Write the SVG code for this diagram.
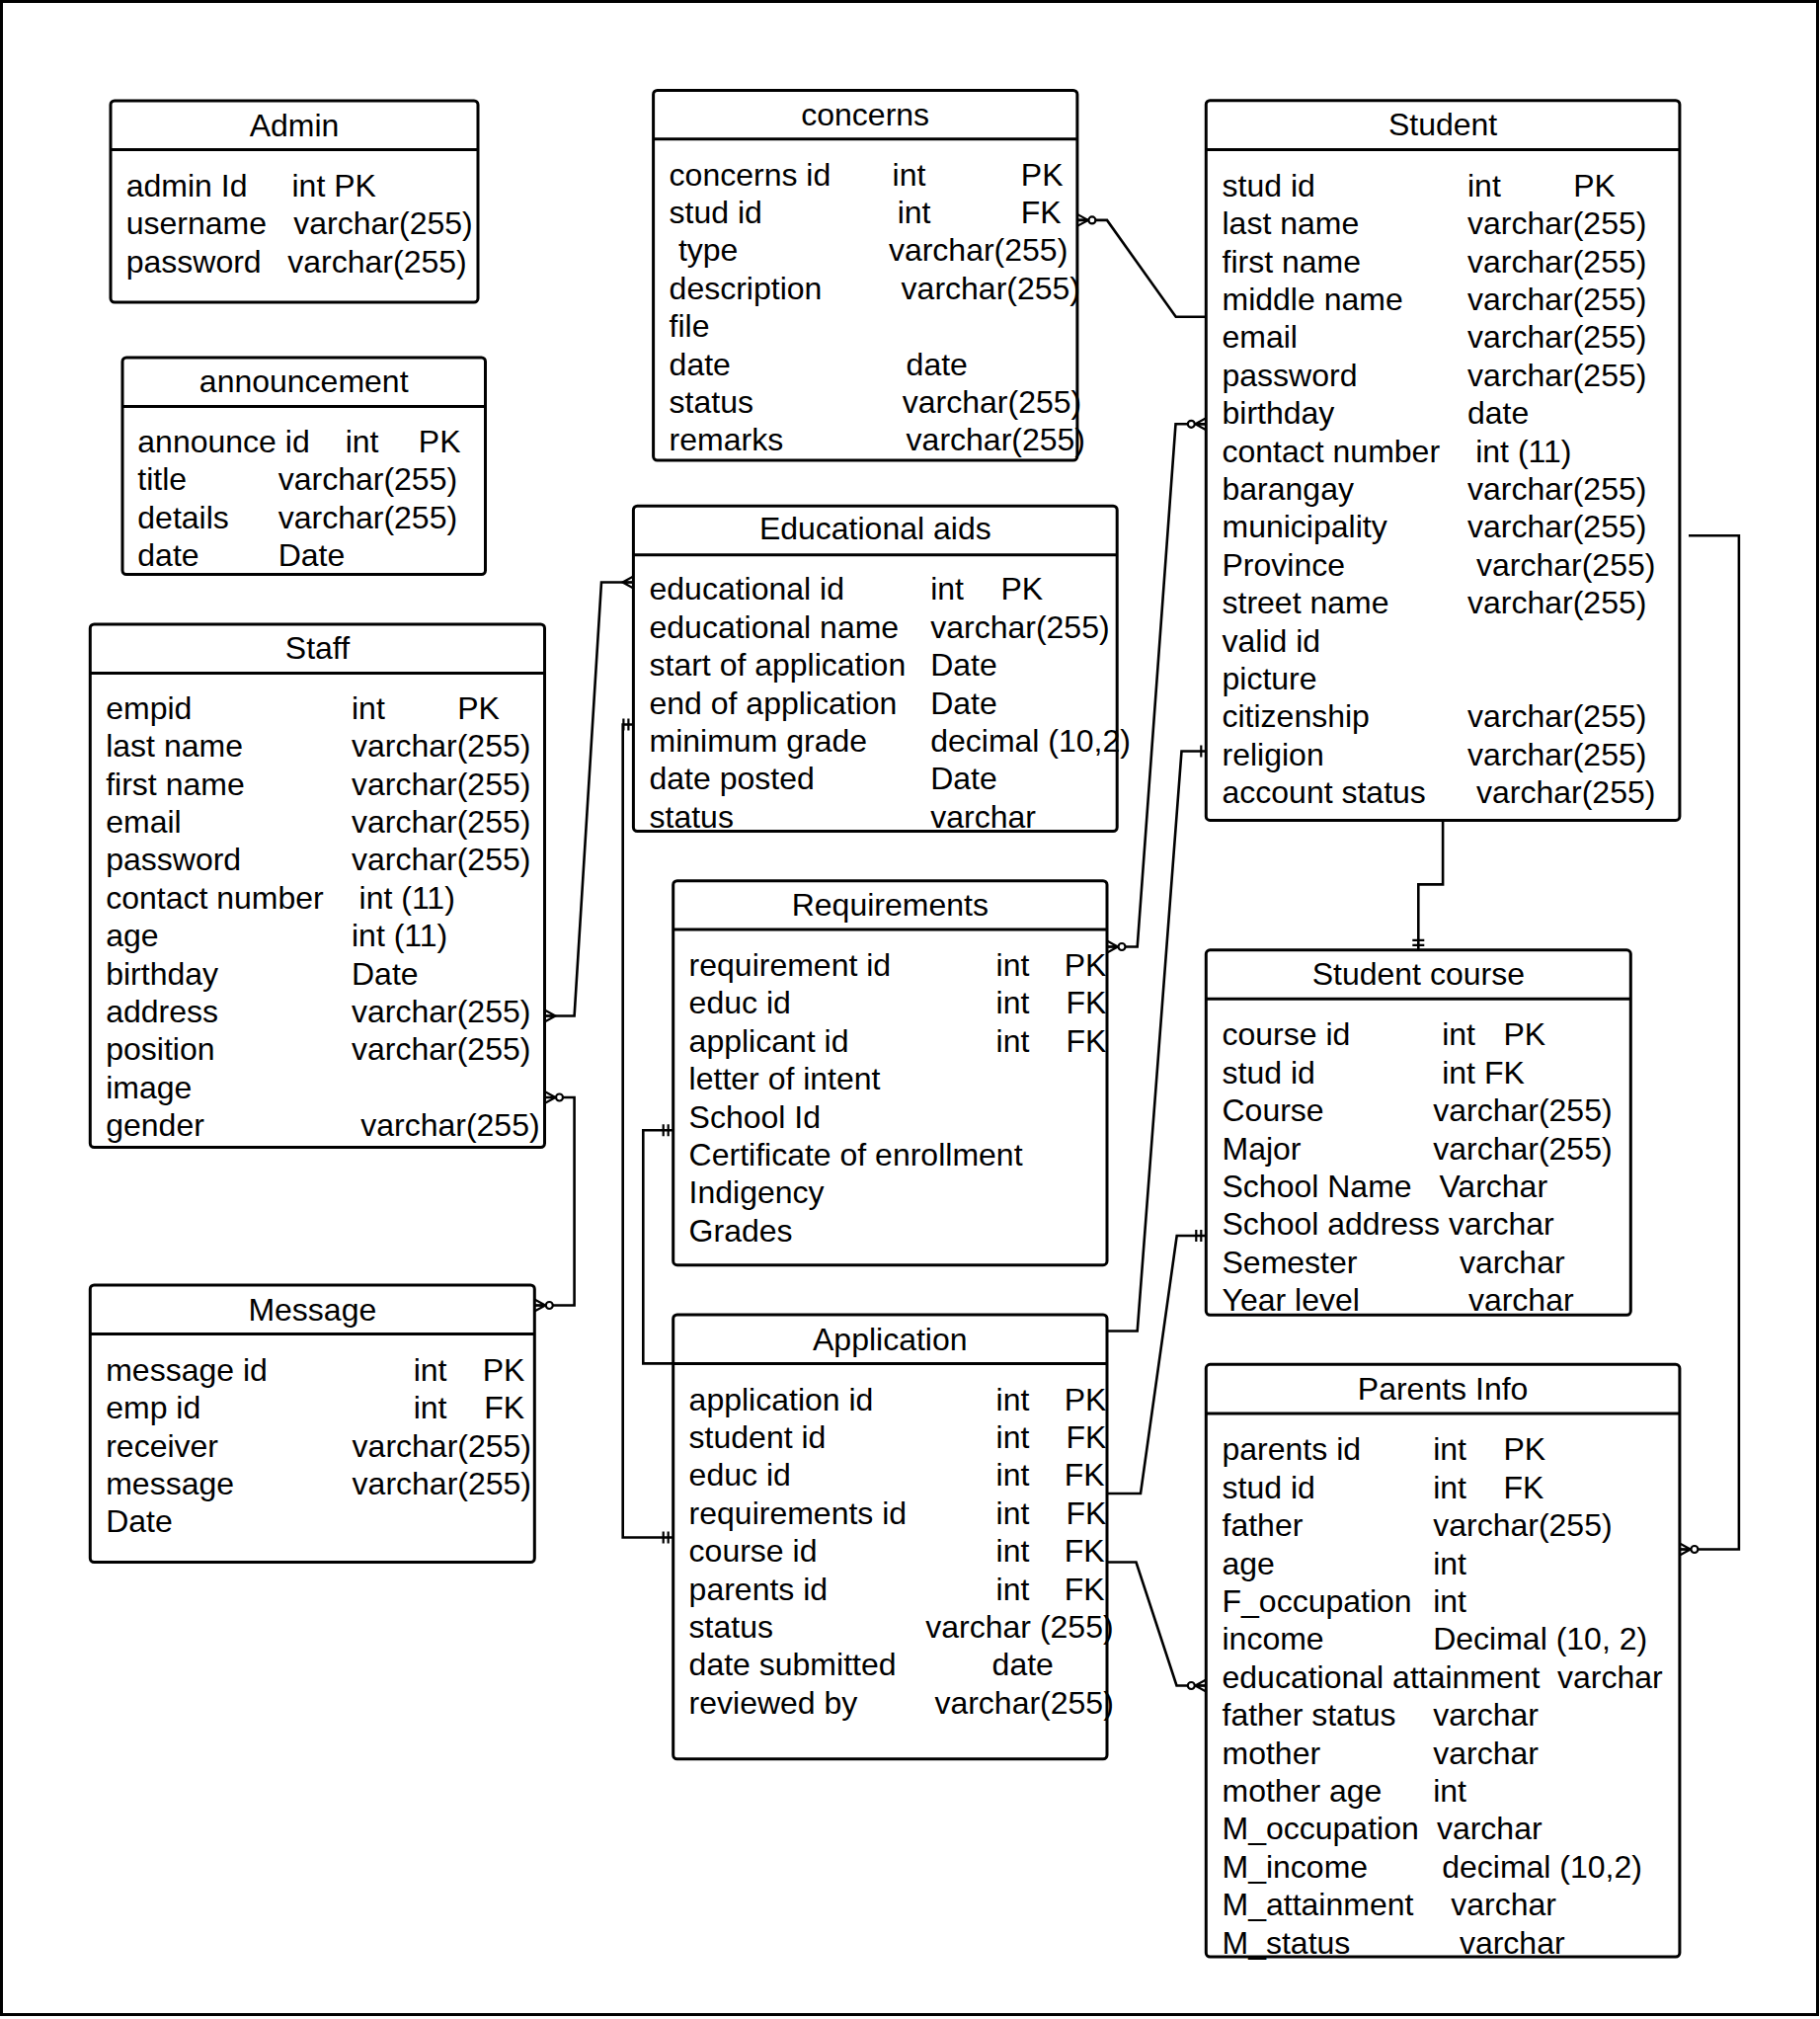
<svg xmlns="http://www.w3.org/2000/svg" width="1843" height="2044" viewBox="0 0 1843 2044">
<style>
.box{fill:#fff;stroke:#000;stroke-width:3}
.sep{stroke:#000;stroke-width:3}
text{font-family:"Liberation Sans",Arial,Helvetica,sans-serif;font-size:32px;fill:#000}
.t{text-anchor:middle}
.edge{fill:none;stroke:#000;stroke-width:2.6}
.mk{fill:none;stroke:#000;stroke-width:2.2}
</style>
<defs>
<marker id="zm" viewBox="-22 -10 26 20" markerWidth="26" markerHeight="20" refX="0" refY="0" markerUnits="userSpaceOnUse" orient="auto-start-reverse">
<path class="mk" d="M0,-6 L-11,0 L0,6 M0,0 H-11"/>
<circle cx="-15" cy="0" r="3.5" fill="#fff" stroke="#000" stroke-width="2.2"/>
</marker>
<marker id="many" viewBox="-22 -10 26 20" markerWidth="26" markerHeight="20" refX="0" refY="0" markerUnits="userSpaceOnUse" orient="auto-start-reverse">
<path class="mk" d="M0,-6 L-11,0 L0,6 M0,0 H-11"/>
</marker>
<marker id="one" viewBox="-22 -10 26 20" markerWidth="26" markerHeight="20" refX="0" refY="0" markerUnits="userSpaceOnUse" orient="auto-start-reverse">
<path class="mk" d="M-5,-6 V6"/>
</marker>
<marker id="mand" viewBox="-22 -10 26 20" markerWidth="26" markerHeight="20" refX="0" refY="0" markerUnits="userSpaceOnUse" orient="auto-start-reverse">
<path class="mk" d="M-5,-6 V6 M-10,-6 V6"/>
</marker>
</defs>
<rect x="0" y="0" width="1843" height="2044" fill="#fff"/>
<rect x="1.5" y="1.5" width="1839" height="2038" fill="none" stroke="#000" stroke-width="3"/>

<g id="admin">
<rect class="box" x="112" y="102" width="372" height="204" rx="4"/>
<line class="sep" x1="112" y1="151.5" x2="484" y2="151.5"/>
<text class="t" x="298" y="137.5">Admin</text>
<text x="127.7" y="198.7">admin Id</text><text x="295.5" y="198.7">int PK</text>
<text x="127.7" y="237.1">username</text><text x="297.3" y="237.1">varchar(255)</text>
<text x="127.7" y="275.5">password</text><text x="291.3" y="275.5">varchar(255)</text>
</g>

<g id="announcement">
<rect class="box" x="124" y="362" width="367.5" height="219.5" rx="4"/>
<line class="sep" x1="124" y1="411.6" x2="491.5" y2="411.6"/>
<text class="t" x="307.7" y="397">announcement</text>
<text x="139.3" y="458">announce id</text><text x="349.7" y="458">int</text><text x="423.8" y="458">PK</text>
<text x="139.3" y="496.4">title</text><text x="281.7" y="496.4">varchar(255)</text>
<text x="139.3" y="534.8">details</text><text x="281.7" y="534.8">varchar(255)</text>
<text x="139.3" y="573.2">date</text><text x="281.7" y="573.2">Date</text>
</g>

<g id="staff">
<rect class="box" x="91.3" y="632" width="460.2" height="529.5" rx="4"/>
<line class="sep" x1="91.3" y1="681.4" x2="551.5" y2="681.4"/>
<text class="t" x="321.4" y="666.5">Staff</text>
<text x="107.2" y="727.7">empid</text><text x="356" y="727.7">int</text><text x="463.2" y="727.7">PK</text>
<text x="107.2" y="766.1">last name</text><text x="356" y="766.1">varchar(255)</text>
<text x="107.2" y="804.5">first name</text><text x="356" y="804.5">varchar(255)</text>
<text x="107.2" y="842.9">email</text><text x="356" y="842.9">varchar(255)</text>
<text x="107.2" y="881.3">password</text><text x="356" y="881.3">varchar(255)</text>
<text x="107.2" y="919.7">contact number</text><text x="363.6" y="919.7">int (11)</text>
<text x="107.2" y="958.1">age</text><text x="356" y="958.1">int (11)</text>
<text x="107.2" y="996.5">birthday</text><text x="356" y="996.5">Date</text>
<text x="107.2" y="1034.9">address</text><text x="356" y="1034.9">varchar(255)</text>
<text x="107.2" y="1073.3">position</text><text x="356" y="1073.3">varchar(255)</text>
<text x="107.2" y="1111.7">image</text>
<text x="107.2" y="1150.1">gender</text><text x="365.2" y="1150.1">varchar(255)</text>
</g>

<g id="message">
<rect class="box" x="91.3" y="1301" width="450" height="280.5" rx="4"/>
<line class="sep" x1="91.3" y1="1350.6" x2="541.3" y2="1350.6"/>
<text class="t" x="316.3" y="1336.7">Message</text>
<text x="107.2" y="1397.8">message id</text><text x="418.7" y="1397.8">int</text><text x="488.7" y="1397.8">PK</text>
<text x="107.2" y="1436.2">emp id</text><text x="418.7" y="1436.2">int</text><text x="490.2" y="1436.2">FK</text>
<text x="107.2" y="1474.6">receiver</text><text x="356.6" y="1474.6">varchar(255)</text>
<text x="107.2" y="1513">message</text><text x="356.6" y="1513">varchar(255)</text>
<text x="107.2" y="1551.4">Date</text>
</g>

<g id="concerns">
<rect class="box" x="661.6" y="91.5" width="429.3" height="374.5" rx="4"/>
<line class="sep" x1="661.6" y1="140.8" x2="1090.9" y2="140.8"/>
<text class="t" x="876.2" y="126.5">concerns</text>
<text x="677.6" y="187.5">concerns id</text><text x="903.6" y="187.5">int</text><text x="1033.8" y="187.5">PK</text>
<text x="677.6" y="225.9">stud id</text><text x="908.7" y="225.9">int</text><text x="1033.8" y="225.9">FK</text>
<text x="686.9" y="264.3">type</text><text x="899.9" y="264.3">varchar(255)</text>
<text x="677.6" y="302.7">description</text><text x="912.6" y="302.7">varchar(255)</text>
<text x="677.6" y="341.1">file</text>
<text x="677.6" y="379.5">date</text><text x="917.6" y="379.5">date</text>
<text x="677.6" y="417.9">status</text><text x="913.8" y="417.9">varchar(255)</text>
<text x="677.6" y="456.3">remarks</text><text x="917.6" y="456.3">varchar(255)</text>
</g>

<g id="educational-aids">
<rect class="box" x="641.4" y="512.2" width="489.8" height="329.3" rx="4"/>
<line class="sep" x1="641.4" y1="561.7" x2="1131.2" y2="561.7"/>
<text class="t" x="886.3" y="546.3">Educational aids</text>
<text x="657.5" y="607.3">educational id</text><text x="942.2" y="607.3">int</text><text x="1013.4" y="607.3">PK</text>
<text x="657.5" y="645.7">educational name</text><text x="942.2" y="645.7">varchar(255)</text>
<text x="657.5" y="684.1">start of application</text><text x="942.2" y="684.1">Date</text>
<text x="657.5" y="722.5">end of application</text><text x="942.2" y="722.5">Date</text>
<text x="657.5" y="760.9">minimum grade</text><text x="942.2" y="760.9">decimal (10,2)</text>
<text x="657.5" y="799.3">date posted</text><text x="942.2" y="799.3">Date</text>
<text x="657.5" y="837.7">status</text><text x="942.2" y="837.7">varchar</text>
</g>

<g id="requirements">
<rect class="box" x="681.7" y="891.7" width="439.3" height="389" rx="4"/>
<line class="sep" x1="681.7" y1="941.1" x2="1121" y2="941.1"/>
<text class="t" x="901.3" y="927">Requirements</text>
<text x="697.6" y="988">requirement id</text><text x="1008.6" y="988">int</text><text x="1077.7" y="988">PK</text>
<text x="697.6" y="1026.4">educ id</text><text x="1008.6" y="1026.4">int</text><text x="1079.5" y="1026.4">FK</text>
<text x="697.6" y="1064.8">applicant id</text><text x="1008.6" y="1064.8">int</text><text x="1079.5" y="1064.8">FK</text>
<text x="697.6" y="1103.2">letter of intent</text>
<text x="697.6" y="1141.6">School Id</text>
<text x="697.6" y="1180">Certificate of enrollment</text>
<text x="697.6" y="1218.4">Indigency</text>
<text x="697.6" y="1256.8">Grades</text>
</g>

<g id="application">
<rect class="box" x="681.7" y="1331" width="439.3" height="449.8" rx="4"/>
<line class="sep" x1="681.7" y1="1380.4" x2="1121" y2="1380.4"/>
<text class="t" x="901.3" y="1366.5">Application</text>
<text x="697.6" y="1427.5">application id</text><text x="1008.6" y="1427.5">int</text><text x="1077.7" y="1427.5">PK</text>
<text x="697.6" y="1465.9">student id</text><text x="1008.6" y="1465.9">int</text><text x="1079.5" y="1465.9">FK</text>
<text x="697.6" y="1504.3">educ id</text><text x="1008.6" y="1504.3">int</text><text x="1077.7" y="1504.3">FK</text>
<text x="697.6" y="1542.7">requirements id</text><text x="1008.6" y="1542.7">int</text><text x="1079.5" y="1542.7">FK</text>
<text x="697.6" y="1581.1">course id</text><text x="1008.6" y="1581.1">int</text><text x="1077.7" y="1581.1">FK</text>
<text x="697.6" y="1619.5">parents id</text><text x="1008.6" y="1619.5">int</text><text x="1077.7" y="1619.5">FK</text>
<text x="697.6" y="1657.9">status</text><text x="937.3" y="1657.9">varchar (255)</text>
<text x="697.6" y="1696.3">date submitted</text><text x="1004.6" y="1696.3">date</text>
<text x="697.6" y="1734.7">reviewed by</text><text x="946.4" y="1734.7">varchar(255)</text>
</g>

<g id="student">
<rect class="box" x="1221.3" y="101.7" width="479.6" height="728.7" rx="4"/>
<line class="sep" x1="1221.3" y1="151.5" x2="1700.9" y2="151.5"/>
<text class="t" x="1461.1" y="137.4">Student</text>
<text x="1237.5" y="198.7">stud id</text><text x="1486" y="198.7">int</text><text x="1593.2" y="198.7">PK</text>
<text x="1237.5" y="237.1">last name</text><text x="1486" y="237.1">varchar(255)</text>
<text x="1237.5" y="275.5">first name</text><text x="1486" y="275.5">varchar(255)</text>
<text x="1237.5" y="313.9">middle name</text><text x="1486" y="313.9">varchar(255)</text>
<text x="1237.5" y="352.3">email</text><text x="1486" y="352.3">varchar(255)</text>
<text x="1237.5" y="390.7">password</text><text x="1486" y="390.7">varchar(255)</text>
<text x="1237.5" y="429.1">birthday</text><text x="1486" y="429.1">date</text>
<text x="1237.5" y="467.5">contact number</text><text x="1494.2" y="467.5">int (11)</text>
<text x="1237.5" y="505.9">barangay</text><text x="1486" y="505.9">varchar(255)</text>
<text x="1237.5" y="544.3">municipality</text><text x="1486" y="544.3">varchar(255)</text>
<text x="1237.5" y="582.7">Province</text><text x="1495" y="582.7">varchar(255)</text>
<text x="1237.5" y="621.1">street name</text><text x="1486" y="621.1">varchar(255)</text>
<text x="1237.5" y="659.5">valid id</text>
<text x="1237.5" y="697.9">picture</text>
<text x="1237.5" y="736.3">citizenship</text><text x="1486" y="736.3">varchar(255)</text>
<text x="1237.5" y="774.7">religion</text><text x="1486" y="774.7">varchar(255)</text>
<text x="1237.5" y="813.1">account status</text><text x="1495" y="813.1">varchar(255)</text>
</g>

<g id="student-course">
<rect class="box" x="1221.3" y="961.8" width="430" height="369.5" rx="4"/>
<line class="sep" x1="1221.3" y1="1011.2" x2="1651.3" y2="1011.2"/>
<text class="t" x="1436.3" y="996.8">Student course</text>
<text x="1237.5" y="1058.3">course id</text><text x="1460.2" y="1058.3">int</text><text x="1522.5" y="1058.3">PK</text>
<text x="1237.5" y="1096.7">stud id</text><text x="1460.2" y="1096.7">int FK</text>
<text x="1237.5" y="1135.1">Course</text><text x="1451.2" y="1135.1">varchar(255)</text>
<text x="1237.5" y="1173.5">Major</text><text x="1451.2" y="1173.5">varchar(255)</text>
<text x="1237.5" y="1211.9">School Name</text><text x="1457.4" y="1211.9">Varchar</text>
<text x="1237.5" y="1250.3">School address varchar</text>
<text x="1237.5" y="1288.7">Semester</text><text x="1477.9" y="1288.7">varchar</text>
<text x="1237.5" y="1327.1">Year level</text><text x="1486.9" y="1327.1">varchar</text>
</g>

<g id="parents-info">
<rect class="box" x="1221.3" y="1381.3" width="479.6" height="599.8" rx="4"/>
<line class="sep" x1="1221.3" y1="1430.9" x2="1700.9" y2="1430.9"/>
<text class="t" x="1461.1" y="1417">Parents Info</text>
<text x="1237.5" y="1478.3">parents id</text><text x="1451.2" y="1478.3">int</text><text x="1522.5" y="1478.3">PK</text>
<text x="1237.5" y="1516.7">stud id</text><text x="1451.2" y="1516.7">int</text><text x="1522.5" y="1516.7">FK</text>
<text x="1237.5" y="1555.1">father</text><text x="1451.2" y="1555.1">varchar(255)</text>
<text x="1237.5" y="1593.5">age</text><text x="1451.2" y="1593.5">int</text>
<text x="1237.5" y="1631.9">F_occupation</text><text x="1451.2" y="1631.9">int</text>
<text x="1237.5" y="1670.3">income</text><text x="1451.2" y="1670.3">Decimal (10, 2)</text>
<text x="1237.5" y="1708.7">educational attainment</text><text x="1577" y="1708.7">varchar</text>
<text x="1237.5" y="1747.1">father status</text><text x="1451.2" y="1747.1">varchar</text>
<text x="1237.5" y="1785.5">mother</text><text x="1451.2" y="1785.5">varchar</text>
<text x="1237.5" y="1823.9">mother age</text><text x="1451.2" y="1823.9">int</text>
<text x="1237.5" y="1862.3">M_occupation</text><text x="1454.9" y="1862.3">varchar</text>
<text x="1237.5" y="1900.7">M_income</text><text x="1460.2" y="1900.7">decimal (10,2)</text>
<text x="1237.5" y="1939.1">M_attainment</text><text x="1469.3" y="1939.1">varchar</text>
<text x="1237.5" y="1977.5">M_status</text><text x="1477.9" y="1977.5">varchar</text>
</g>

<g id="connectors">
<path class="edge" d="M1090.9,222.9 H1121 L1190.7,320.8 H1221.3" marker-start="url(#zm)"/>
<path class="edge" d="M1121,958.5 H1151.7 L1190.5,429.3 H1221.3" marker-start="url(#zm)" marker-end="url(#zm)"/>
<path class="edge" d="M1221.3,760.5 H1196.5 L1151.7,1347.5 H1121" marker-start="url(#one)"/>
<path class="edge" d="M1121,1512 H1155 L1191.7,1251 H1221.3" marker-end="url(#mand)"/>
<path class="edge" d="M1121,1581.5 H1150.5 L1191.5,1706.5 H1221.3" marker-end="url(#zm)"/>
<path class="edge" d="M1710,542.2 H1760.9 V1568.5 H1700.9" marker-end="url(#zm)"/>
<path class="edge" d="M1461.1,830.4 V895.4 H1436.3 V961.8" marker-end="url(#mand)"/>
<path class="edge" d="M551.5,1028.5 H581.6 L609,589.5 H641.4" marker-start="url(#many)" marker-end="url(#many)"/>
<path class="edge" d="M551.5,1111 H581.6 V1321.5 H541.3" marker-start="url(#zm)" marker-end="url(#zm)"/>
<path class="edge" d="M641.4,733.5 H630.7 V1556.5 H681.7" marker-start="url(#mand)" marker-end="url(#mand)"/>
<path class="edge" d="M681.7,1144.2 H651.3 V1380.4 H1121" marker-start="url(#mand)"/>
</g>
</svg>
